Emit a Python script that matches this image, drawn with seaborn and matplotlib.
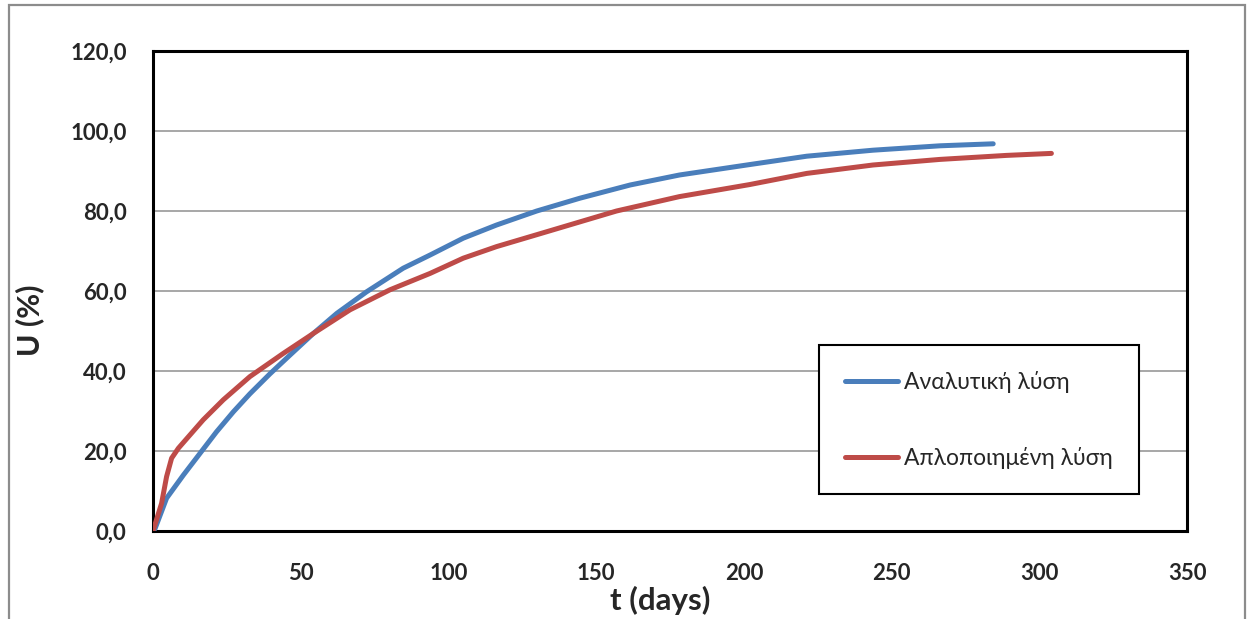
import matplotlib
matplotlib.use("Agg")
import matplotlib.pyplot as plt
import seaborn as sns
import pandas as pd
from matplotlib.patches import Rectangle
from matplotlib.ticker import FuncFormatter

# ---- data ----
t_analytic = [0, 0.7, 4.6, 10.3, 15.9, 21.5, 27.2, 32.8, 39.6, 46.4, 54.3, 62.2, 72.3, 84.7,
              93.8, 105.0, 116.3, 129.9, 144.5, 161.5, 178.2, 201.9, 221.3, 243.7, 266.4, 284.4]
u_analytic = [0, 0.6, 8.2, 14.0, 19.4, 24.8, 29.8, 34.3, 39.3, 44.0, 49.4, 54.4, 59.8, 65.7,
              69.0, 73.2, 76.5, 80.0, 83.2, 86.5, 89.0, 91.6, 93.7, 95.2, 96.3, 96.8]

t_simple = [0, 2.9, 4.6, 6.3, 8.6, 12.5, 17.0, 23.8, 32.8, 44.1, 54.3, 66.7, 80.2, 93.8,
            105.0, 116.3, 133.2, 156.9, 178.2, 201.9, 221.3, 243.7, 266.4, 288.9, 304.1]
u_simple = [0, 6.9, 13.6, 18.2, 20.7, 24.0, 27.8, 32.8, 38.6, 44.4, 49.4, 55.3, 60.3, 64.4,
            68.2, 71.1, 74.8, 80.0, 83.6, 86.6, 89.4, 91.5, 92.9, 93.9, 94.4]

series_names = ["Αναλυτική λύση", "Απλοποιημένη λύση"]
series_colors = ["#4A7EBB", "#BE4B48"]

x_ticks = [0, 50, 100, 150, 200, 250, 300, 350]
y_ticks = [0, 20, 40, 60, 80, 100, 120]
x_label = "t (days)"
y_label = "U (%)"

df = pd.concat([
    pd.DataFrame({"t": t_analytic, "U": u_analytic, "series": series_names[0]}),
    pd.DataFrame({"t": t_simple, "U": u_simple, "series": series_names[1]}),
], ignore_index=True)

sns.set_style("white")
fam = ["Lato", "Open Sans", "DejaVu Sans"]
plt.rcParams["font.family"] = fam

fig = plt.figure(figsize=(12.51, 6.19), dpi=100)
ax = fig.add_axes([153 / 1251, 1 - 531 / 619, (1187 - 153) / 1251, (531 - 51) / 619])

sns.lineplot(data=df, x="t", y="U", hue="series", palette=dict(zip(series_names, series_colors)),
             sort=False, estimator=None, linewidth=3.6, ax=ax, legend=False, zorder=3)
for ln in ax.get_lines():
    ln.set_solid_capstyle("round")
    ln.set_solid_joinstyle("round")

ax.set_xlim(0, 350)
ax.set_ylim(0, 120)
ax.set_xticks(x_ticks)
ax.set_yticks(y_ticks)
ax.yaxis.set_major_formatter(FuncFormatter(lambda v, p: f"{v:.1f}".replace(".", ",")))
ax.tick_params(axis="both", length=0, labelsize=16)
ax.tick_params(axis="y", pad=19)
ax.tick_params(axis="x", pad=23)
for lab in ax.get_xticklabels() + ax.get_yticklabels():
    lab.set_fontweight("bold")

ax.grid(axis="y", color="#A0A0A0", linewidth=1.3)
ax.grid(axis="x", visible=False)
for sp in ax.spines.values():
    sp.set_visible(True)
    sp.set_color("black")
    sp.set_linewidth(2.2)

ax.set_xlabel(x_label, fontsize=22.5, fontweight="bold")
ax.set_ylabel(y_label, fontsize=22, fontweight="bold")
ax.xaxis.set_label_coords((660 - 153) / 1034, (531 - 600) / 480)
ax.yaxis.set_label_coords((30 - 153) / 1034, (531 - 320) / 480)
ax.xaxis.label.set_va("center")
ax.yaxis.label.set_va("center")

handles = [plt.Line2D([], [], color=c, linewidth=3.6, solid_capstyle="round") for c in series_colors]
leg = ax.legend(handles, series_names, loc="upper left", bbox_to_anchor=(0.644, 0.3875),
                frameon=True, fancybox=False, shadow=False,
                handlelength=2.35, handletextpad=0.25, labelspacing=2.35, borderpad=1.12,
                borderaxespad=0, prop={"family": fam, "size": 16.5})
leg.get_frame().set_edgecolor("black")
leg.get_frame().set_linewidth(1.5)
leg.get_frame().set_facecolor("white")
leg.get_frame().set_alpha(1)

# outer chart border
fig.patches.append(Rectangle((9 / 1251, -0.05), (1245 - 9) / 1251, 1.05 - 5 / 619,
                             transform=fig.transFigure, fill=False, edgecolor="#8C8C8C",
                             linewidth=1.6))

fig.savefig("out.png", dpi=100)
